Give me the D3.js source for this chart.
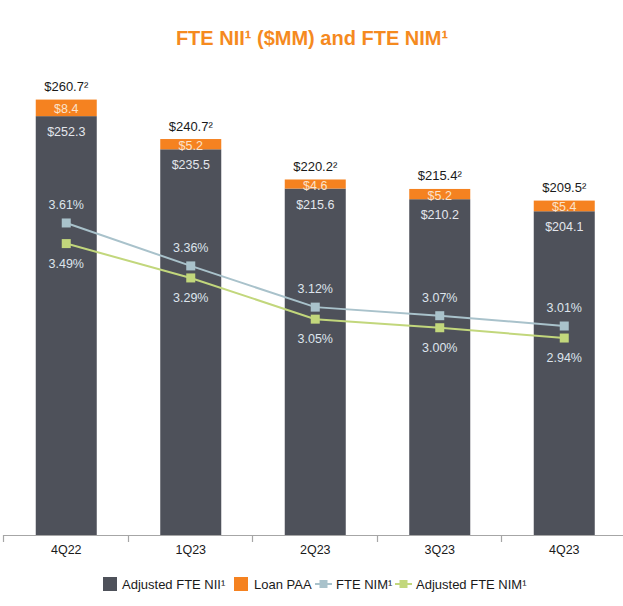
<!DOCTYPE html>
<html><head><meta charset="utf-8">
<script src="https://cdn.jsdelivr.net/npm/d3@7"></script>
<style>body{margin:0;background:#fff}svg{display:block}</style>
</head><body><svg id="c" width="623" height="606"></svg>
<script>
const categories = ["4Q22","1Q23","2Q23","3Q23","4Q23"];
const adjustedNII = [252.3, 235.5, 215.6, 210.2, 204.1];
const loanPAA = [8.4, 5.2, 4.6, 5.2, 5.4];
const totalLabels = ["$260.7²","$240.7²","$220.2²","$215.4²","$209.5²"];
const fteNIM = [3.61, 3.36, 3.12, 3.07, 3.01];
const adjFteNIM = [3.49, 3.29, 3.05, 3.00, 2.94];

const svg = d3.select("#c");
const FONT = "'Liberation Sans', Arial, sans-serif";
const C = {dark:"#4e515a", orange:"#f58220", blue:"#a9c2cb", green:"#c2d77c", title:"#f58a1f"};

const x = d3.scaleBand().domain(categories).range([4, 626.5]).paddingInner(0.51).paddingOuter(0.255);
const y = d3.scaleLinear().domain([40, 280]).range([535, 61.5]);
const yR = d3.scaleLinear().domain([2.5, 4.0]).range([413.6, 156]);

// title
svg.append("text").attr("x", 312).attr("y", 45).attr("text-anchor","middle")
  .attr("font-family", FONT).attr("font-weight","bold").attr("font-size", 20)
  .attr("fill", C.title).text("FTE NII¹ ($MM) and FTE NIM¹");

const g = svg.append("g");
const bw = x.bandwidth();

// bars
categories.forEach((c,i)=>{
  const x0 = x(c);
  g.append("rect").attr("x", x0).attr("width", bw)
    .attr("y", y(adjustedNII[i])).attr("height", y(40) - y(adjustedNII[i])).attr("fill", C.dark);
  const tot = adjustedNII[i] + loanPAA[i];
  g.append("rect").attr("x", x0).attr("width", bw)
    .attr("y", y(tot)).attr("height", y(adjustedNII[i]) - y(tot)).attr("fill", C.orange);
  const cx = x0 + bw/2;
  g.append("text").attr("x", cx).attr("y", (y(tot)+y(adjustedNII[i]))/2 + 1.5)
    .attr("dominant-baseline","central").attr("text-anchor","middle")
    .attr("font-family", FONT).attr("font-size", 12.5).attr("fill", "#fbe3cc")
    .text("$" + loanPAA[i].toFixed(1));
  g.append("text").attr("x", cx).attr("y", y(adjustedNII[i]) + 16)
    .attr("dominant-baseline","central").attr("text-anchor","middle")
    .attr("font-family", FONT).attr("font-size", 12.5).attr("fill", "#e3e6ec")
    .text("$" + adjustedNII[i].toFixed(1));
  g.append("text").attr("x", cx).attr("y", y(tot) - 13)
    .attr("dominant-baseline","central").attr("text-anchor","middle")
    .attr("font-family", FONT).attr("font-size", 13).attr("fill", "#1a1a1a")
    .text(totalLabels[i]);
});

// axis
g.append("line").attr("x1", 3).attr("x2", 623).attr("y1", 535.5).attr("y2", 535.5)
  .attr("stroke", "#a6a6a6").attr("stroke-width", 1.2);
const step = x.step();
d3.range(categories.length + 1).forEach(k=>{
  const tx = Math.round(4 + k*step) - 0.5;
  g.append("line").attr("x1", tx).attr("x2", tx).attr("y1", 535).attr("y2", 542)
    .attr("stroke", "#a6a6a6").attr("stroke-width", 1.2);
});
const ax = svg.append("g").attr("transform","translate(0,535)")
  .call(d3.axisBottom(x).tickSize(0).tickPadding(10));
ax.select(".domain").remove();
ax.selectAll("text").attr("font-family", FONT).attr("font-size", 12.5).attr("fill", "#1a1a1a");

// lines
const cxOf = c => x(c) + bw/2;
function series(vals, color, labelDy){
  const pts = categories.map((c,i)=>[cxOf(c), yR(vals[i])]);
  g.append("path").attr("d", d3.line()(pts)).attr("fill","none")
    .attr("stroke", color).attr("stroke-width", 2);
  pts.forEach((p,i)=>{
    g.append("rect").attr("x", p[0]-4.5).attr("y", p[1]-4.5).attr("width", 9).attr("height", 9)
      .attr("fill", color);
    g.append("text").attr("x", p[0]).attr("y", p[1] + labelDy)
      .attr("dominant-baseline","central").attr("text-anchor","middle")
      .attr("font-family", FONT).attr("font-size", 12.5).attr("fill", "#dde4ec")
      .text(vals[i].toFixed(2) + "%");
  });
}
series(fteNIM, C.blue, -18);
series(adjFteNIM, C.green, 20);

// legend
const lg = svg.append("g").attr("font-family", FONT).attr("font-size", 13).attr("fill", "#1a1a1a");
const ly = 584;
lg.append("rect").attr("x",103).attr("y",ly-7).attr("width",14).attr("height",14).attr("fill",C.dark);
lg.append("text").attr("x",122).attr("y",ly).attr("dominant-baseline","central").text("Adjusted FTE NII¹");
lg.append("rect").attr("x",234).attr("y",ly-7).attr("width",14).attr("height",14).attr("fill",C.orange);
lg.append("text").attr("x",254).attr("y",ly).attr("dominant-baseline","central").text("Loan PAA");
[[315, C.blue, "FTE NIM¹"],[395, C.green, "Adjusted FTE NIM¹"]].forEach(([lx,col,t])=>{
  lg.append("line").attr("x1",lx).attr("x2",lx+17).attr("y1",ly).attr("y2",ly).attr("stroke",col).attr("stroke-width",2);
  lg.append("rect").attr("x",lx+4.5).attr("y",ly-4).attr("width",8).attr("height",8).attr("fill",col);
  lg.append("text").attr("x",lx+21).attr("y",ly).attr("dominant-baseline","central").text(t);
});
</script></body></html>
